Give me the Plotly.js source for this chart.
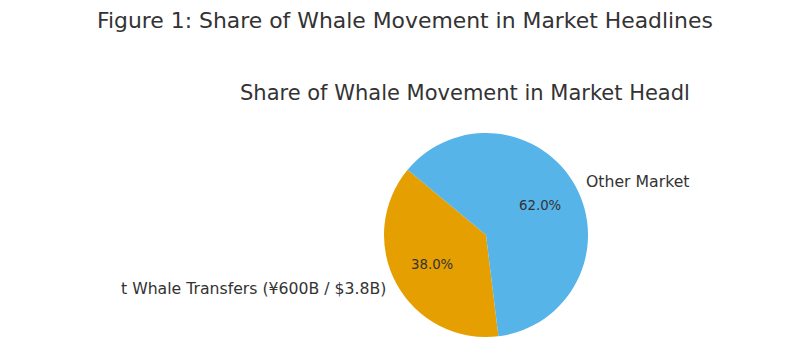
<!DOCTYPE html>
<html>
<head>
<meta charset="utf-8">
<script src="https://cdn.plot.ly/plotly-3.0.1.min.js"></script>
<style>html,body{margin:0;padding:0;background:#fff;}#chart{width:808px;height:361px;}</style>
</head>
<body>
<div id="chart"></div>
<script>
const figureTitle = 'Figure 1: Share of Whale Movement in Market Headlines';
const chartTitle = 'Share of Whale Movement in Market Headl';
const labels = ['t Whale Transfers (¥600B / $3.8B)', 'Other Market'];
const values = [38, 62];
const colors = ['#E69F00', '#56B4E9'];
const startAngle = 140.2; // degrees, standard orientation, slices run counterclockwise

const W = 808, H = 361;
const domX = [384 / W, 588 / W];
const domY = [(H - 337) / H, (H - 133) / H];
const textColor = '#333333';
const font = 'DejaVu Sans, Liberation Sans, sans-serif';

const cx = (domX[0] + domX[1]) / 2 * W;
const cy = H - (domY[0] + domY[1]) / 2 * H;
const r = Math.min((domX[1] - domX[0]) * W, (domY[1] - domY[0]) * H) / 2;

const total = values.reduce((a, b) => a + b, 0);
const annotations = [];
const px = (x, y) => ({x: x / W, y: 1 - y / H});

let a0 = startAngle;
values.forEach((v, i) => {
  const span = v / total * 360;
  const mid = (a0 + span / 2) * Math.PI / 180;
  a0 += span;
  const dx = Math.cos(mid), dy = Math.sin(mid);
  const p = px(cx + 0.6 * r * dx, cy - 0.6 * r * dy);
  annotations.push({xref: 'paper', yref: 'paper', x: p.x, y: p.y, showarrow: false, borderpad: 0,
    xanchor: 'center', yanchor: 'middle', text: (v / total * 100).toFixed(1) + '%',
    font: {family: font, size: 13.3, color: textColor}});
  const q = px(cx + 1.1 * r * dx, cy - 1.1 * r * dy);
  annotations.push({xref: 'paper', yref: 'paper', x: q.x, y: q.y, showarrow: false, borderpad: 0,
    xanchor: dx >= 0 ? 'left' : 'right', yanchor: 'middle', text: labels[i],
    font: {family: font, size: 15.7, color: textColor}});
});

const t1 = px(405, 20);
annotations.push({xref: 'paper', yref: 'paper', x: t1.x, y: t1.y, showarrow: false, borderpad: 0,
  xanchor: 'center', yanchor: 'middle', text: figureTitle,
  font: {family: font, size: 21.9, color: textColor}});
const t2 = px(239, 93);
annotations.push({xref: 'paper', yref: 'paper', x: t2.x, y: t2.y, showarrow: false, borderpad: 0,
  xanchor: 'left', yanchor: 'middle', text: chartTitle,
  font: {family: font, size: 21.0, color: textColor}});

// Plotly draws the first slice clockwise from its start; begin where the first slice ends
const firstEnd = startAngle + values[0] / total * 360;

const data = [{
  type: 'pie',
  labels: labels,
  values: values,
  marker: {colors: colors, line: {width: 0}},
  sort: false,
  direction: 'clockwise',
  rotation: 90 - firstEnd,
  textinfo: 'none',
  hoverinfo: 'label+percent',
  domain: {x: domX, y: domY},
  showlegend: false
}];

const layout = {
  width: W, height: H,
  margin: {l: 0, r: 0, t: 0, b: 0},
  paper_bgcolor: '#ffffff',
  plot_bgcolor: '#ffffff',
  showlegend: false,
  annotations: annotations,
  font: {family: font, color: textColor}
};

Plotly.newPlot('chart', data, layout, {displayModeBar: false, staticPlot: true});
</script>
</body>
</html>
